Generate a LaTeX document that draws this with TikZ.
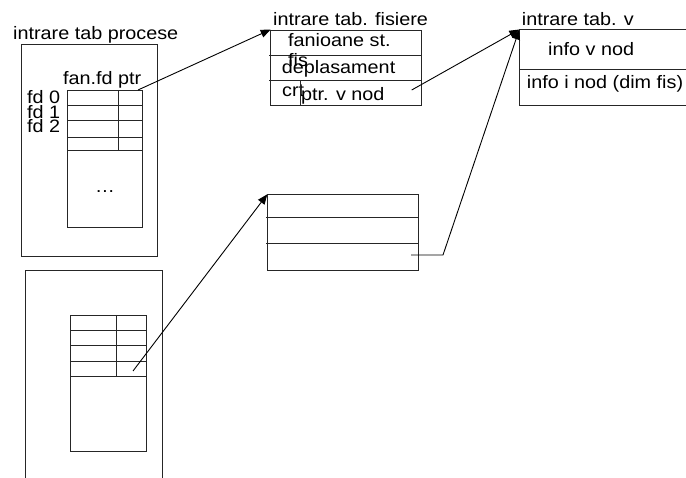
\documentclass[tikz,border=0pt]{standalone}
\usepackage{fontspec}
\setmainfont{Liberation Sans}[FakeStretch=1.1]
\usetikzlibrary{arrows.meta}
\begin{document}
\begin{tikzpicture}[x=1pt,y=-1pt,
  ln/.style={line width=0.9pt,draw=black!85},
  lbl/.style={anchor=base west,inner sep=0pt,font=\fontsize{18}{20}\selectfont},
  conn/.style={line width=0.9pt,-{Triangle[length=10pt,width=8pt]}}]
\useasboundingbox (0,0) rectangle (686,478);

% ---------- process table 1 ----------
\node[lbl] (t1) at (13,39.3) {intrare tab procese};
\draw[ln] (21.7,44) rectangle (157,256);
\draw[ln] (67,90.5) rectangle (142,227);
\foreach \yy in {105,120,137,150} \draw[ln] (67,\yy) -- (142,\yy);
\draw[ln] (118,90.5) -- (118,150);
\node[lbl] (hd) at (63,85) {fan.fd ptr};
\node[lbl] (fd0) at (27,104) {fd 0};
\node[lbl] (fd1) at (27,118.5) {fd 1};
\node[lbl] (fd2) at (27,133) {fd 2};
\node[lbl] (dots) at (95,193) {\dots};
\coordinate (p1ptr) at (138,90);

% ---------- process table 2 ----------
\draw[ln] (25.7,478) -- (25.7,270) -- (162.3,270) -- (162.3,478);
\draw[ln] (70.7,315) rectangle (146.7,451.7);
\foreach \yy in {330.3,345.7,361,376} \draw[ln] (70.7,\yy) -- (146.7,\yy);
\draw[ln] (116.3,315) -- (116.3,376);
\coordinate (p2ptr) at (133,371);

% ---------- file table entry ----------
\node[lbl] (tf) at (273,26) {intrare tab. fisiere};
\draw[ln] (270.7,30) rectangle (421.7,105.7);
\draw[ln] (269,55.7) -- (421.7,55.7);
\draw[ln] (269,80.7) -- (421.7,80.7);
\node[lbl] (fan) at (288,46.7) {fanioane st.};
\node[lbl] (fis) at (288,66.5) {fis};
\node[lbl] (depl) at (281.7,73.3) {deplasament};
\node[lbl] (crt) at (282,96.5) {crt};
\node[lbl] (ptrv) at (301,101) {ptr. v nod};
\draw[ln] (300,80.7) -- (300,105.7);
\coordinate (fent) at (270.7,29.5);
\coordinate (fptr) at (411.7,90);

% ---------- second file table entry ----------
\draw[ln] (267.3,194.3) rectangle (418.3,270);
\draw[ln] (266,217.3) -- (419,217.3);
\draw[ln] (266,243.3) -- (419,243.3);
\coordinate (ment) at (267.3,194.3);
\coordinate (mptr) at (411,255);
\coordinate (mbend) at (443,255);

% ---------- v-node table entry ----------
\node[lbl] (tv) at (521.7,26) {intrare tab. v};
\draw[ln] (686,29.3) -- (519.3,29.3) -- (519.3,105) -- (686,105);
\draw[ln] (519.3,69.3) -- (686,69.3);
\node[lbl] (vinfo) at (548,56) {info v nod};
\node[lbl] (iinfo) at (526.7,89) {info i nod (dim fis)};
\coordinate (vent) at (519.3,29.5);

% ---------- connectors ----------
\draw[conn] (p1ptr) -- (fent);
\draw[conn] (fptr) -- (vent);
\draw[conn] (p2ptr) -- (ment);
\draw[conn] (mptr) -- (mbend) -- (vent);
\end{tikzpicture}
\end{document}
